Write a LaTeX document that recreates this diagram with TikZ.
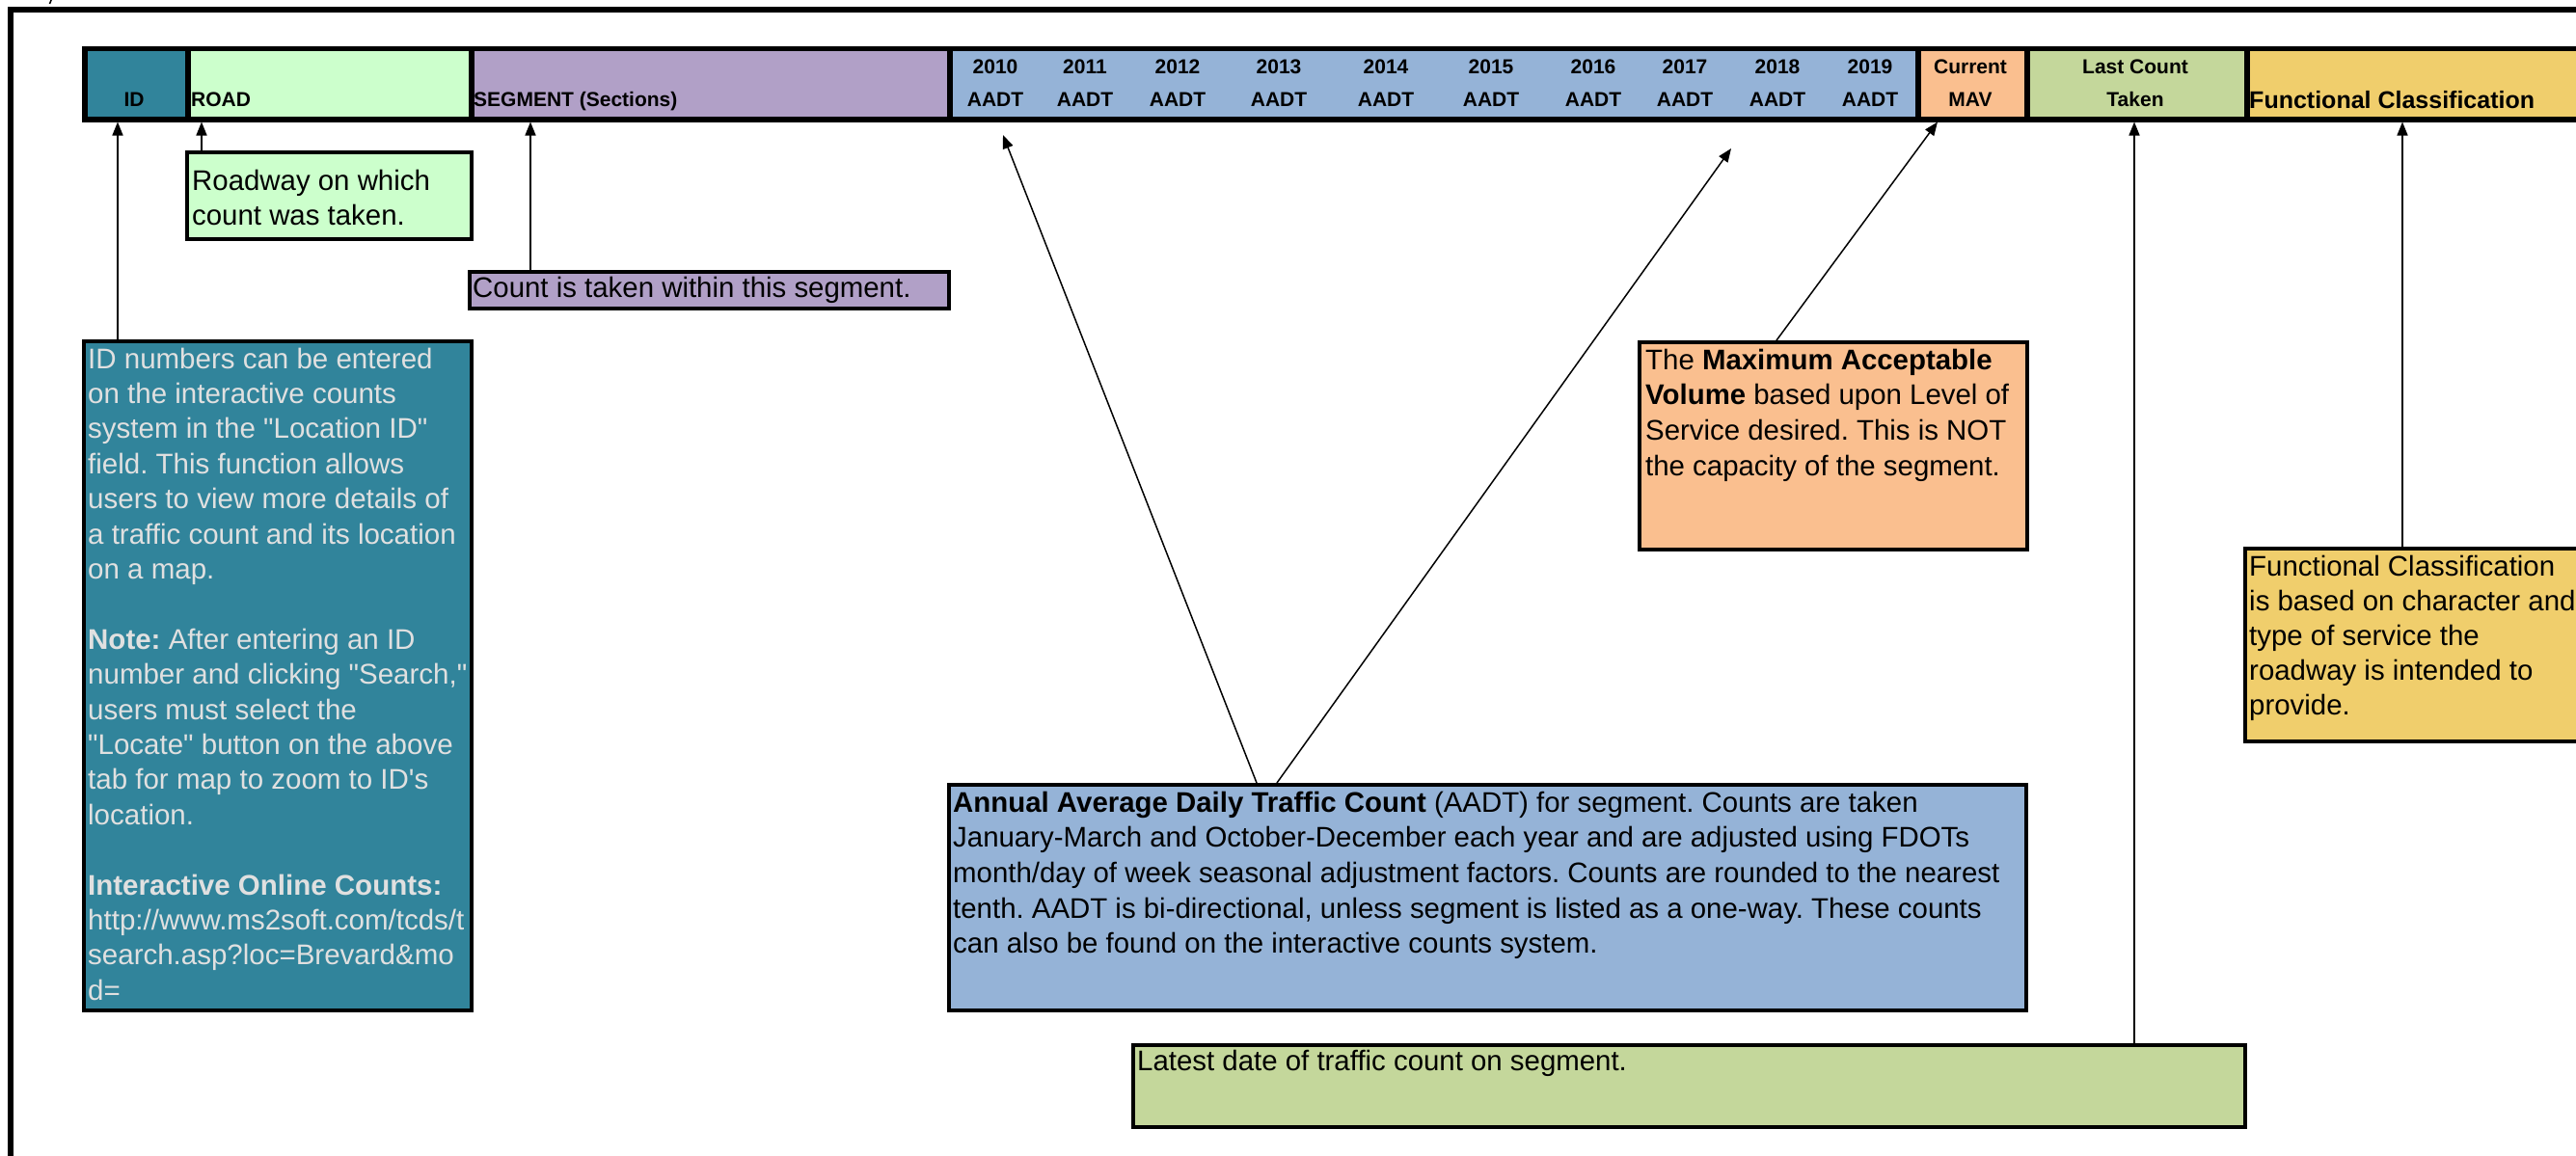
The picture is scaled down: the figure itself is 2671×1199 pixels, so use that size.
\documentclass[tikz,border=0pt]{standalone}
\usepackage{fontspec}
\setmainfont{Liberation Sans}
\newfontfamily\arialish{Liberation Sans}
\usetikzlibrary{arrows.meta,calc}

\definecolor{idteal}{HTML}{31849B}
\definecolor{roadgreen}{HTML}{CCFFCC}
\definecolor{segpurple}{HTML}{B1A0C7}
\definecolor{aadtblue}{HTML}{95B3D7}
\definecolor{mavorange}{HTML}{FABF8F}
\definecolor{lastgreen}{HTML}{C4D79B}
\definecolor{fcgold}{HTML}{F0CE6C}
\definecolor{notegray}{HTML}{E0E0E0}

\frenchspacing
\begin{document}
\begin{tikzpicture}[x=1pt,y=-1pt,
  hdr/.style={draw=black,line width=5.5pt,inner sep=0pt,anchor=north west},
  note/.style={draw=black,line width=3.5pt,inner sep=0pt,anchor=north west},
  hlab/.style={font=\arialish\fontsize{21}{24}\selectfont\bfseries,inner sep=0pt,anchor=base},
  txt/.style={font=\arialish\fontsize{29.4}{36.6}\selectfont,inner sep=0pt,anchor=north west,align=left},
  arr/.style={line width=1.5pt,-{Triangle[length=14pt,width=11pt]}},
]
\useasboundingbox (0,0) rectangle (2671,1199);

% page frame (open to the right and bottom)
\draw[line width=6pt] (11,1215) -- (11,10) -- (2690,10);
\draw[line width=1.5pt] (51.5,4) -- (53.5,-1);

% header row
\node[hdr,fill=idteal,   minimum width=107pt, minimum height=73pt] (idcell)   at (85,48)   {};
\node[hdr,fill=roadgreen,minimum width=294pt, minimum height=73pt] (roadcell) at (192,48)  {};
\node[hdr,fill=segpurple,minimum width=496pt, minimum height=73pt] (segcell)  at (486,48)  {};
\node[hdr,fill=aadtblue, minimum width=1004pt,minimum height=73pt] (aadtcell) at (982,48)  {};
\node[hdr,fill=mavorange,minimum width=113pt, minimum height=73pt] (mavcell)  at (1986,48) {};
\node[hdr,fill=lastgreen,minimum width=228pt, minimum height=73pt] (lastcell) at (2099,48) {};
\node[hdr,fill=fcgold,   minimum width=400pt, minimum height=73pt] (fccell)   at (2327,48) {};

% header labels
\node[hlab] (lid) at (139,110) {ID};
\node[hlab,anchor=base west] (lroad) at (198,110) {ROAD};
\node[hlab,anchor=base west] (lseg) at (491,110) {SEGMENT (Sections)};
\foreach \yr/\xx in {2010/1032,2011/1125,2012/1221,2013/1326,2014/1437,
                     2015/1546,2016/1652,2017/1747,2018/1843,2019/1939}{
  \node[hlab] (y\yr) at (\xx,77) {\yr};
  \node[hlab] (a\yr) at (\xx,110) {AADT};
}
\node[hlab] (lcur) at (2043,77) {Current};
\node[hlab] (lmav) at (2043,110) {MAV};
\node[hlab] (llast) at (2214,77) {Last Count};
\node[hlab] (ltaken) at (2214,110) {Taken};
\node[hlab,anchor=base west,font=\arialish\fontsize{25}{28}\selectfont\bfseries] (lfc) at (2332,112) {Functional Classification};

% explanation boxes
\node[note,fill=roadgreen,minimum width=295pt, minimum height=90pt]  (roadnote) at (192,156)  {};
\node[note,fill=segpurple,minimum width=497pt, minimum height=38pt]  (segnote)  at (485,280)  {};
\node[note,fill=idteal,   minimum width=402pt, minimum height=694pt] (idnote)   at (85,352)   {};
\node[note,fill=aadtblue, minimum width=1117pt,minimum height=234pt] (aadtnote) at (982,812)  {};
\node[note,fill=mavorange,minimum width=402pt, minimum height=215pt] (mavnote)  at (1698,353) {};
\node[note,fill=fcgold,   minimum width=400pt, minimum height=200pt] (fcnote)   at (2326,567) {};
\node[note,fill=lastgreen,minimum width=1153pt,minimum height=85pt]  (lastnote) at (1173,1082) {};

% box texts (first baseline minus strut height)
\node[txt] (troad) at (199,171.4) {\strut Roadway on which\\count was taken.};
\node[txt] (tseg) at (490,282.4) {\strut Count is taken within this segment.};
\node[txt,text=notegray,font=\arialish\fontsize{29.5}{36.4}\selectfont] (tid) at (91,356.5) {\strut ID numbers can be entered\\
on the interactive counts\\
system in the "Location ID"\\
field. This function allows\\
users to view more details of\\
a traffic count and its location\\
on a map.\\[36.4pt]
\textbf{Note:} After entering an ID\\
number and clicking "Search,"\\
users must select the\\
"Locate" button on the above\\
tab for map to zoom to ID's\\
location.\\[36.4pt]
\textbf{Interactive Online Counts:}\\
http://www.ms2soft.com/tcds/t\\
search.asp?loc=Brevard\&mo\\
d=};
\node[txt] (taadt) at (988,816.4) {\strut \textbf{Annual Average Daily Traffic Count} (AADT) for segment. Counts are taken\\
January-March and October-December each year and are adjusted using FDOTs\\
month/day of week seasonal adjustment factors. Counts are rounded to the nearest\\
tenth. AADT is bi-directional, unless segment is listed as a one-way. These counts\\
can also be found on the interactive counts system.};
\node[txt] (tmav) at (1706,357.4) {\strut The \textbf{Maximum Acceptable}\\
\textbf{Volume} based upon Level of\\
Service desired. This is NOT\\
the capacity of the segment.};
\node[txt,font=\arialish\fontsize{29.4}{36}\selectfont] (tfc) at (2332,571.8) {\strut Functional Classification\\
is based on character and\\
type of service the\\
roadway is intended to\\
provide.};
\node[txt] (tlast) at (1179,1084.4) {\strut Latest date of traffic count on segment.};

% connector x positions and free tips
\coordinate (xid) at (122,0);
\coordinate (xroad) at (209,0);
\coordinate (xseg) at (550,0);
\coordinate (xa1) at (1303,0);
\coordinate (xa2) at (1324,0);
\coordinate (xmav) at (1842,0);
\coordinate (xmavt) at (2009,0);
\coordinate (xlast) at (2213,0);
\coordinate (xfc) at (2491,0);
\coordinate (tipa1) at (1040,140);
\coordinate (tipa2) at (1795,154);

% connectors
\draw[arr] (idnote.north -| xid) -- (idcell.south -| xid);
\draw[arr] (roadnote.north -| xroad) -- (roadcell.south -| xroad);
\draw[arr] (segnote.north -| xseg) -- (segcell.south -| xseg);
\draw[arr] (aadtnote.north -| xa1) -- (tipa1);
\draw[arr] (aadtnote.north -| xa2) -- (tipa2);
\draw[arr] (mavnote.north -| xmav) -- (mavcell.south -| xmavt);
\draw[arr] (lastnote.north -| xlast) -- (lastcell.south -| xlast);
\draw[arr] (fcnote.north -| xfc) -- (fccell.south -| xfc);
\end{tikzpicture}
\end{document}
